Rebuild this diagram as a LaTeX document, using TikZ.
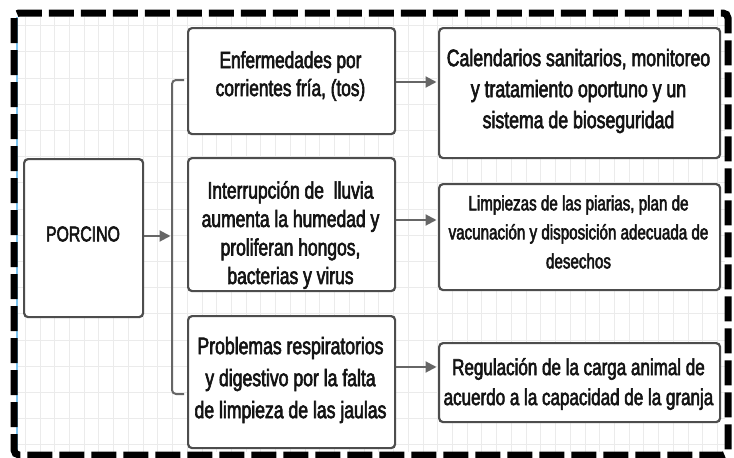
\documentclass[tikz,border=0pt]{standalone}
\usepackage{fontspec}
\setmainfont{Liberation Sans}[FakeStretch=0.74,FakeBold=2.5]
\usetikzlibrary{arrows.meta}
\definecolor{gridc}{HTML}{EBEBEB}
\definecolor{boxc}{HTML}{4D4D4D}
\definecolor{linec}{HTML}{666666}
\definecolor{bluec}{HTML}{7CC4F0}
\definecolor{txtc}{HTML}{141414}
\begin{document}
\begin{tikzpicture}[x=1pt,y=-1pt,
  boxnode/.style={draw=boxc, line width=2.2pt, rounded corners=4pt, fill=white, inner sep=0pt, anchor=north west},
  txt/.style={text=txtc, align=center, inner sep=0pt},
  arr/.style={draw=linec, line width=2pt, shorten >=1.5pt, -{Triangle[length=11pt,width=11pt]}},
  conn/.style={draw=linec, line width=2pt, rounded corners=4pt}]
\useasboundingbox (0,0) rectangle (734,458);
\fill[white] (0,0) rectangle (734,458);
% grid
\foreach \i in {0,...,47} \draw[gridc, line width=1pt] ({25.3+14.73*\i},17) -- ({25.3+14.73*\i},452);
\foreach \k in {0,...,16} \draw[gridc, line width=1pt] (17,{25.6+26.2*\k}) -- (725,{25.6+26.2*\k});
\draw[bluec, line width=1.5pt] (17,17) -- (17,452);
% dashed frame
\draw[black, line width=7pt, dash pattern=on 25pt off 7pt, rounded corners=5pt] (14,13) rectangle (728,455);
% boxes
\node[boxnode, minimum width=119pt, minimum height=158pt] (porc) at (23,158) {};
\node[boxnode, minimum width=207pt, minimum height=106pt] (b1) at (187,27) {};
\node[boxnode, minimum width=207pt, minimum height=133pt] (b2) at (187,157) {};
\node[boxnode, minimum width=207pt, minimum height=132pt] (b3) at (187,315) {};
\node[boxnode, minimum width=281pt, minimum height=130pt] (r1) at (438,27) {};
\node[boxnode, minimum width=281pt, minimum height=106pt] (r2) at (438,183) {};
\node[boxnode, minimum width=281pt, minimum height=79pt] (r3) at (438,342) {};
% texts
\node[txt, font=\fontsize{21.4}{24}\selectfont] (tporc) at (83,234) {PORCINO};
\node[txt, font=\fontsize{23.3}{28}\selectfont] (tb1) at (290.5,76) {Enfermedades por\\corrientes fría, (tos)};
\node[txt, font=\fontsize{23.6}{28.5}\selectfont] (tb2) at (290.5,235) {Interrupción de~ lluvia\\aumenta la humedad y\\proliferan hongos,\\bacterias y virus};
\node[txt, font=\fontsize{23.8}{32}\selectfont] (tb3) at (290.5,380) {Problemas respiratorios\\y digestivo por la falta\\de limpieza de las jaulas};
\node[txt, font=\fontsize{23.9}{31}\selectfont] (tr1) at (578.5,91) {Calendarios sanitarios, monitoreo\\y tratamiento oportuno y un\\sistema de bioseguridad};
\node[txt, font=\fontsize{20.5}{29}\selectfont] (tr2) at (578.5,232) {Limpiezas de las piarias, plan de\\vacunación y disposición adecuada de\\desechos};
\node[txt, font=\fontsize{23}{30}\selectfont] (tr3) at (578.5,384) {Regulación de la carga animal de\\acuerdo a la capacidad de la granja};
% bracket
\coordinate (bt) at (184,80);
\coordinate (bb) at (184,394);
\coordinate (bk) at (172,236);
\draw[conn] (bt) -- (bt -| bk) -- (bb -| bk) -- (bb);
% connectors
\draw[arr] (porc.east |- bk) -- (bk);
\coordinate (y1) at (0,82);
\coordinate (y2) at (0,220);
\coordinate (y3) at (0,367);
\draw[arr] (b1.east |- y1) -- (r1.west |- y1);
\draw[arr] (b2.east |- y2) -- (r2.west |- y2);
\draw[arr] (b3.east |- y3) -- (r3.west |- y3);
\end{tikzpicture}
\end{document}
